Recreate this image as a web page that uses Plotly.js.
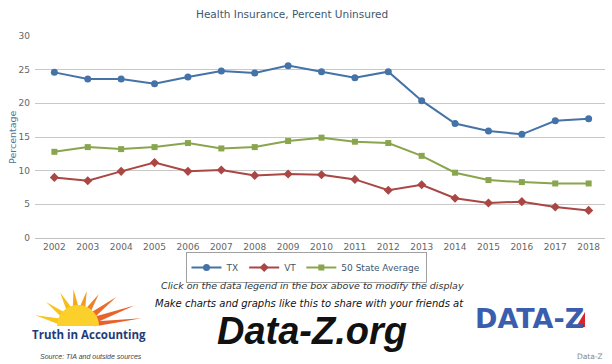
<!DOCTYPE html>
<html>
<head>
<meta charset="utf-8">
<script src="https://cdn.plot.ly/plotly-3.0.1.min.js"></script>
<style>html,body{margin:0;padding:0;background:#fff;}#chart{width:612px;height:364px;}</style>
</head>
<body>
<div id="chart"></div>
<script>
// ---- data ----
var years = [2002,2003,2004,2005,2006,2007,2008,2009,2010,2011,2012,2013,2014,2015,2016,2017,2018];
var txValues  = [24.6,23.6,23.6,22.9,23.9,24.8,24.5,25.6,24.7,23.8,24.7,20.4,17.0,15.9,15.4,17.4,17.7];
var vtValues  = [9.0,8.5,9.9,11.2,9.9,10.1,9.3,9.5,9.4,8.7,7.1,7.9,5.9,5.2,5.4,4.6,4.1];
var avgValues = [12.8,13.5,13.2,13.5,14.1,13.3,13.5,14.4,14.9,14.3,14.1,12.2,9.7,8.6,8.3,8.1,8.1];
var seriesNames = ["TX","VT","50 State Average"];
var yTicks = [0,5,10,15,20,25,30];
var chartTitle = "Health Insurance, Percent Uninsured";
var yTitle = "Percentage";

// ---- layout helpers (pixel -> paper) ----
var L = 35, R = 605, T = 36, B = 238;
function px(x){ return (x - L) / (R - L); }
function py(y){ return (B - y) / (B - T); }
function path(pts){
  return pts.map(function(p,i){ return (i? "L":"M") + px(p[0]).toFixed(4) + "," + py(p[1]).toFixed(4); }).join(" ") + " Z";
}

var font = "DejaVu Sans, Verdana, sans-serif";
var traces = [
  {x: years, y: txValues, name: seriesNames[0], type: "scatter", mode: "lines+markers",
   line: {color: "#4572A7", width: 2}, marker: {symbol: "circle", size: 7, color: "#4572A7"}},
  {x: years, y: vtValues, name: seriesNames[1], type: "scatter", mode: "lines+markers",
   line: {color: "#AA4643", width: 2}, marker: {symbol: "diamond", size: 7, color: "#AA4643"}},
  {x: years, y: avgValues, name: seriesNames[2], type: "scatter", mode: "lines+markers",
   line: {color: "#89A54E", width: 2}, marker: {symbol: "square", size: 6, color: "#89A54E"}}
];

// sun logo
var shapes = [];
var cx = 78, cy = 326;
var rays = [
  [166, 44, 4, "#f8c51c"], [143, 40, 4, "#f8c51c"], [118, 38, 4, "#f7bd1a"],
  [97, 37, 4, "#f5a81c"], [76, 36, 4, "#f29a22"], [57, 38, 4, "#ee8126"],
  [37, 48, 4, "#ea6d2a"], [20, 60, 4, "#e8632b"], [7, 64, 3, "#e8602c"]
];
rays.forEach(function(r){
  var a = r[0]*Math.PI/180, len = r[1], w = r[2]*Math.PI/180*3;
  var r0 = 16;
  var tip = [cx + Math.cos(a)*len, cy - Math.sin(a)*len];
  var b1 = [cx + Math.cos(a-w)*r0, cy - Math.sin(a-w)*r0];
  var b2 = [cx + Math.cos(a+w)*r0, cy - Math.sin(a+w)*r0];
  shapes.push({type:"path", xref:"paper", yref:"paper", path: path([b1, tip, b2]),
    fillcolor: r[3], line:{width:0}, layer:"above"});
});
var arc = [];
for (var i = 0; i <= 30; i++) {
  var t = Math.PI * i / 30;
  arc.push([cx + Math.cos(t)*21, cy - Math.sin(t)*21]);
}
shapes.push({type:"path", xref:"paper", yref:"paper", path: path(arc),
  fillcolor:"#fbd02a", line:{width:0}, layer:"above"});
// white band under sun (text area)
shapes.push({type:"rect", xref:"paper", yref:"paper", x0:px(30), x1:px(150), y0:py(340), y1:py(326.5),
  fillcolor:"#ffffff", line:{width:0}, layer:"above"});

function ann(text, x, y, size, color, extra){
  var a = {text: text, xref:"paper", yref:"paper", x: px(x), y: py(y), showarrow:false,
    xanchor:"center", yanchor:"middle", font:{family: font, size: size, color: color}};
  if (extra) for (var k in extra) { if (k === "font") { for (var f in extra.font) a.font[f] = extra.font[f]; } else a[k] = extra[k]; }
  return a;
}

var annotations = [
  ann(chartTitle, 292, 14, 10.5, "#3E576F"),
  ann(yTitle, 12, 137, 9.5, "#4D759E", {textangle: -90}),
  ann("<i>Click on the data legend in the box above to modify the display</i>", 312, 285, 9.5, "#333333"),
  ann("<i>Make charts and graphs like this to share with your friends at</i>", 309, 303, 10, "#111111"),
  ann("<b><i>Data-Z.org</i></b>", 312, 331, 38, "#111111", {font:{family:"Liberation Sans, Arial, sans-serif"}}),
  ann("<b>Truth in Accounting</b>", 89, 334, 11.5, "#1F3C7A", {font:{family:"Open Sans, Arial, sans-serif"}}),
  ann("<i>Source: TIA and outside sources</i>", 38, 356, 7, "#444444", {xanchor:"left", font:{family:"Liberation Sans, Arial, sans-serif"}}),
  ann("<b>DATA-Z</b>", 529, 318, 27, "#3B5DAE", {font:{family:"DejaVu Sans, Verdana, sans-serif"}}),
  ann("Data-Z", 605, 356, 7.5, "#888888", {xanchor:"right"})
];
// red corner on DATA-Z "Z"
shapes.push({type:"path", xref:"paper", yref:"paper",
  path: path([[585,312],[585,327],[576,327]]), fillcolor:"#d8262c", line:{width:0}, layer:"above"});

var layout = {
  width: 612, height: 364,
  margin: {l: L, r: 612 - R, t: T, b: 364 - B, pad: 0},
  paper_bgcolor: "#ffffff", plot_bgcolor: "#ffffff",
  showlegend: true,
  legend: {orientation: "h", x: px(306), xanchor: "center", y: py(252), yanchor: "top",
    bordercolor: "#A0A0A0", borderwidth: 1, bgcolor: "#ffffff", itemwidth: 30,
    font: {family: font, size: 9, color: "#3E576F"}, tracegroupgap: 0},
  xaxis: {range: [2001.42, 2018.49], tickvals: years, ticktext: years.map(String),
    showgrid: false, zeroline: false, showline: true, linecolor: "#C0C0C0", linewidth: 1,
    ticks: "", tickfont: {family: font, size: 9, color: "#666666"}, fixedrange: true},
  yaxis: {range: [0, 30], tickvals: yTicks, showgrid: true, gridcolor: "#C8C8C8", gridwidth: 1,
    zeroline: false, showline: false, ticks: "", ticklabelstandoff: 4,
    tickfont: {family: font, size: 9, color: "#666666"}, fixedrange: true},
  shapes: shapes,
  annotations: annotations
};

Plotly.newPlot("chart", traces, layout, {displayModeBar: false, staticPlot: true});
</script>
</body>
</html>
